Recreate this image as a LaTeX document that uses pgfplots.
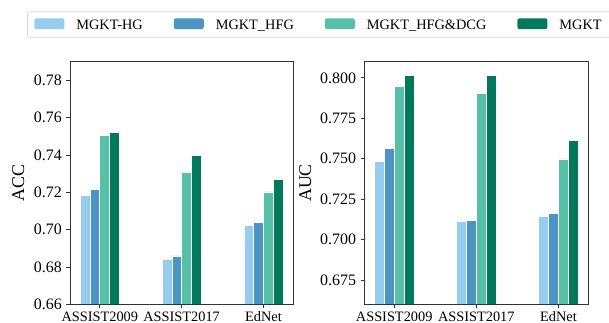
\documentclass[border=0pt]{standalone}
\usepackage{pgfplots}
\pgfplotsset{compat=1.18}
\usepackage{fontspec}
\setmainfont{Liberation Serif}
\definecolor{cA}{RGB}{150,205,238}
\definecolor{cB}{RGB}{75,149,196}
\definecolor{cC}{RGB}{87,193,168}
\definecolor{cD}{RGB}{0,122,90}
\pgfplotsset{
  mybars/.style={
    scale only axis,
    axis on top,
    ybar,
    bar width=0.12,
    xmin=-0.364, xmax=2.364,
    xtick={0,1,2},
    xticklabels={ASSIST2009,ASSIST2017,EdNet},
    axis line style={draw=black!80, line width=0.8bp},
    major tick style={draw=black!80, line width=0.8bp},
    major tick length=3.5bp,
    tick align=outside,
    xtick pos=bottom, ytick pos=left,
    minor tick num=0,
    /pgf/number format/assume math mode=true,
    /pgf/number format/fixed,
    /pgf/number format/fixed zerofill,
    xticklabel style={font=\fontsize{14.4}{14.4}\selectfont, inner sep=0pt, anchor=north, yshift=-4bp},
    yticklabel style={font=\fontsize{16}{16}\selectfont, inner sep=0pt, anchor=east, xshift=-4.5bp},
    ylabel style={font=\fontsize{18}{18}\selectfont, inner sep=0pt, anchor=south},
    every axis plot/.append style={draw=white, line width=0.6bp},
    legend image code/.code={\fill[#1, draw=none] (0bp,0bp) rectangle (30bp,10.7bp); \path (41.7bp,0bp);},
  },
}
\begin{document}
\begin{tikzpicture}
\useasboundingbox (0bp,0bp) rectangle (609bp,323bp);
\begin{axis}[mybars,
  at={(70bp,18.7bp)}, anchor=south west,
  width=223.3bp, height=242.6bp,
  ymin=0.66, ymax=0.79,
  ytick={0.66,0.68,0.70,0.72,0.74,0.76,0.78},
  /pgf/number format/precision=2,
  ylabel={ACC},
  ylabel style={at={(axis description cs:-0.2038,0.5)}},
  legend columns=4,
  legend style={at={(axis description cs:-0.1915,1.2079)}, anchor=north west,
    draw=black!15, line width=0.8bp, rounded corners=2bp, fill=white,
    inner sep=6.7bp,
    font=\fontsize{14.4}{14.4}\selectfont,
    nodes={inner sep=0pt, anchor=base west},
    /tikz/every even column/.append style={column sep=31bp}},
]
\addplot[fill=cA, bar shift=-0.18] coordinates {(0,0.7185) (1,0.6843) (2,0.7021)};
\addplot[fill=cB, bar shift=-0.06] coordinates {(0,0.7217) (1,0.6859) (2,0.7041)};
\addplot[fill=cC, bar shift=0.06] coordinates {(0,0.7506) (1,0.7308) (2,0.7202)};
\addplot[fill=cD, bar shift=0.18] coordinates {(0,0.7523) (1,0.7400) (2,0.7271)};
\addlegendentry{MGKT-HG}
\addlegendentry{MGKT\_HFG}
\addlegendentry{MGKT\_HFG\&DCG}
\addlegendentry{MGKT\hspace*{40bp}}
\end{axis}
\begin{axis}[mybars,
  at={(364.3bp,18.7bp)}, anchor=south west,
  width=224bp, height=242.6bp,
  ymin=0.66, ymax=0.81,
  ytick={0.675,0.700,0.725,0.750,0.775,0.800},
  /pgf/number format/precision=3,
  ylabel={AUC},
  ylabel style={at={(axis description cs:-0.2357,0.5)}},
]
\addplot[fill=cA, bar shift=-0.18] coordinates {(0,0.7485) (1,0.7115) (2,0.7146)};
\addplot[fill=cB, bar shift=-0.06] coordinates {(0,0.7565) (1,0.7120) (2,0.7163)};
\addplot[fill=cC, bar shift=0.06] coordinates {(0,0.7950) (1,0.7905) (2,0.7499)};
\addplot[fill=cD, bar shift=0.18] coordinates {(0,0.8016) (1,0.8016) (2,0.7615)};
\end{axis}
\end{tikzpicture}
\end{document}
